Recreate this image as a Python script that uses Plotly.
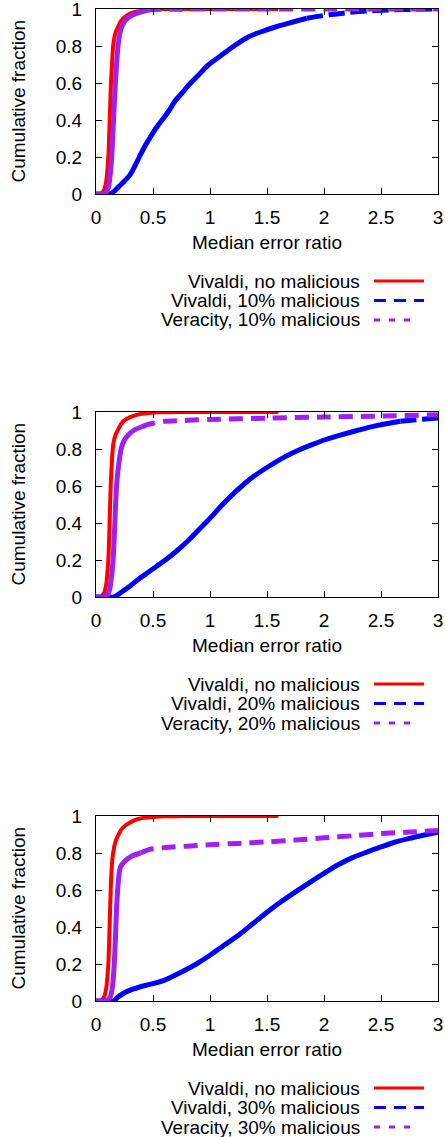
import plotly.graph_objects as go

# ---------------- data ----------------
# Panel 1: 10% malicious
red1_x = [0, 0.04, 0.07, 0.09, 0.10, 0.11, 0.12, 0.13, 0.14, 0.15, 0.17, 0.19, 0.22, 0.25, 0.30, 0.35, 0.42, 0.5, 0.6, 1.0, 1.6]
red1_y = [0, 0.0, 0.02, 0.07, 0.13, 0.22, 0.40, 0.58, 0.70, 0.80, 0.87, 0.90, 0.935, 0.955, 0.975, 0.985, 0.993, 0.998, 1.0, 1.0, 1.0]
blu1_x = [0, 0.12, 0.15, 0.20, 0.25, 0.30, 0.34, 0.38, 0.43, 0.47, 0.52, 0.58, 0.64, 0.69, 0.76, 0.83, 0.91, 0.99, 1.1, 1.21, 1.34, 1.45, 1.56, 1.7, 1.85, 2.0, 2.2, 2.4, 2.6, 2.8, 3.0]
blu1_y = [0, 0, 0.01, 0.04, 0.07, 0.105, 0.15, 0.20, 0.26, 0.30, 0.35, 0.40, 0.45, 0.50, 0.55, 0.60, 0.65, 0.70, 0.75, 0.80, 0.85, 0.877, 0.90, 0.925, 0.95, 0.965, 0.98, 0.99, 0.995, 0.998, 1.0]
pur1_x = [0, 0.06, 0.09, 0.11, 0.12, 0.13, 0.14, 0.15, 0.16, 0.17, 0.19, 0.21, 0.23, 0.26, 0.30, 0.35, 0.40, 0.45, 0.5, 0.7, 1.0, 1.5, 2.0, 2.5, 3.0]
pur1_y = [0, 0, 0.01, 0.04, 0.08, 0.14, 0.22, 0.35, 0.48, 0.60, 0.78, 0.87, 0.91, 0.94, 0.96, 0.975, 0.985, 0.993, 0.997, 0.999, 1, 1, 1, 1, 1]

# Panel 2: 20% malicious
red2_x = [0, 0.04, 0.07, 0.09, 0.10, 0.11, 0.12, 0.13, 0.14, 0.15, 0.17, 0.19, 0.22, 0.25, 0.30, 0.35, 0.40, 0.47, 0.55, 0.7, 1.0, 1.6]
red2_y = [0, 0, 0.02, 0.07, 0.13, 0.22, 0.42, 0.62, 0.74, 0.82, 0.875, 0.90, 0.935, 0.955, 0.972, 0.983, 0.99, 0.995, 0.998, 1, 1, 1]
blu2_x = [0, 0.10, 0.16, 0.22, 0.30, 0.37, 0.45, 0.53, 0.62, 0.71, 0.80, 0.88, 0.96, 1.03, 1.11, 1.20, 1.28, 1.39, 1.50, 1.64, 1.79, 1.90, 2.01, 2.15, 2.29, 2.45, 2.67, 2.85, 3.0]
blu2_y = [0, 0, 0.0, 0.025, 0.06, 0.095, 0.13, 0.165, 0.205, 0.25, 0.30, 0.35, 0.40, 0.445, 0.50, 0.555, 0.60, 0.655, 0.70, 0.752, 0.797, 0.825, 0.85, 0.876, 0.90, 0.925, 0.95, 0.96, 0.968]
pur2_x = [0, 0.07, 0.10, 0.12, 0.13, 0.14, 0.15, 0.16, 0.17, 0.18, 0.20, 0.22, 0.25, 0.29, 0.33, 0.40, 0.47, 0.6, 0.8, 1.0, 1.5, 2.0, 2.5, 3.0]
pur2_y = [0, 0, 0.01, 0.04, 0.08, 0.13, 0.20, 0.32, 0.47, 0.60, 0.72, 0.80, 0.85, 0.88, 0.90, 0.92, 0.935, 0.95, 0.955, 0.96, 0.967, 0.973, 0.978, 0.985]

# Panel 3: 30% malicious
red3_x = [0, 0.04, 0.07, 0.09, 0.10, 0.11, 0.12, 0.13, 0.14, 0.15, 0.17, 0.19, 0.22, 0.26, 0.30, 0.35, 0.42, 0.5, 0.6, 0.8, 1.0, 1.6]
red3_y = [0, 0, 0.02, 0.07, 0.13, 0.22, 0.42, 0.62, 0.74, 0.80, 0.86, 0.89, 0.925, 0.95, 0.965, 0.98, 0.99, 0.995, 0.998, 1, 1, 1]
blu3_x = [0, 0.10, 0.15, 0.20, 0.25, 0.33, 0.44, 0.5, 0.59, 0.75, 0.88, 1.0, 1.12, 1.25, 1.38, 1.5, 1.62, 1.75, 1.88, 2.0, 2.12, 2.25, 2.38, 2.5, 2.62, 2.75, 2.88, 3.0]
blu3_y = [0, 0, 0, 0.025, 0.045, 0.065, 0.085, 0.094, 0.11, 0.157, 0.20, 0.247, 0.30, 0.355, 0.42, 0.48, 0.535, 0.59, 0.643, 0.69, 0.735, 0.775, 0.806, 0.833, 0.858, 0.879, 0.897, 0.913]
pur3_x = [0, 0.08, 0.11, 0.13, 0.14, 0.15, 0.16, 0.17, 0.18, 0.19, 0.205, 0.22, 0.245, 0.28, 0.32, 0.39, 0.47, 0.62, 0.8, 1.0, 1.25, 1.5, 1.75, 2.0, 2.25, 2.5, 2.75, 3.0]
pur3_y = [0, 0, 0.01, 0.03, 0.06, 0.11, 0.20, 0.33, 0.50, 0.60, 0.70, 0.73, 0.75, 0.77, 0.785, 0.80, 0.82, 0.83, 0.837, 0.845, 0.852, 0.86, 0.87, 0.882, 0.893, 0.905, 0.913, 0.922]

series_names = ["Vivaldi, no malicious", "Vivaldi, {p}% malicious", "Veracity, {p}% malicious"]
percents = [10, 20, 30]
x_ticks = [0, 0.5, 1, 1.5, 2, 2.5, 3]
x_tick_text = ["0", "0.5", "1", "1.5", "2", "2.5", "3"]
y_ticks = [0, 0.2, 0.4, 0.6, 0.8, 1]
y_tick_text = ["0", "0.2", "0.4", "0.6", "0.8", "1"]

panels = [
    [(red1_x, red1_y), (blu1_x, blu1_y), (pur1_x, pur1_y)],
    [(red2_x, red2_y), (blu2_x, blu2_y), (pur2_x, pur2_y)],
    [(red3_x, red3_y), (blu3_x, blu3_y), (pur3_x, pur3_y)],
]
# where the dense (visually solid) part of each curve ends
solid_until = [
    [99, 1.9, 0.45],
    [99, 2.8, 0.45],
    [99, 99, 0.45],
]

# ---------------- style ----------------
W, H = 445, 1137
FONT = "Liberation Sans, Arial, Helvetica, sans-serif"
FS = 19
colors = ["#ff0000", "#0000ff", "#a020f0"]
widths = [4, 5, 5]
dashes = ["solid", "16px,6px", "14px,8px"]
smooth = [0.5, 0.9, 0.5]
leg_dashes = ["solid", "12px,8px", "6px,9px"]
leg_end = [424, 424, 410]

# pixel layout
px_left, px_right = 96, 438
panel_tops = [9, 412, 816]
panel_h = 185
leg_gap = 19.5

def py(v):
    return 1 - v / H

fig = go.Figure()
annotations = []
shapes = []

for i, panel in enumerate(panels):
    xa = "x" if i == 0 else f"x{i+1}"
    ya = "y" if i == 0 else f"y{i+1}"
    for j, (xs, ys) in enumerate(panel):
        thr = solid_until[i][j]
        sx = [x for x in xs if x <= thr]
        sy = ys[:len(sx)]
        fig.add_trace(go.Scatter(x=sx, y=sy, mode="lines", xaxis=xa, yaxis=ya,
                                 line=dict(color=colors[j], width=widths[j], dash="solid",
                                           shape="spline", smoothing=smooth[j]),
                                 showlegend=False, hoverinfo="skip"))
        if len(sx) < len(xs):
            k = len(sx) - 1
            fig.add_trace(go.Scatter(x=xs[k:], y=ys[k:], mode="lines", xaxis=xa, yaxis=ya,
                                     line=dict(color=colors[j], width=widths[j], dash=dashes[j],
                                               shape="spline", smoothing=smooth[j]),
                                     showlegend=False, hoverinfo="skip"))

    top = panel_tops[i]
    bot = top + panel_h
    axis_common = dict(showline=True, linecolor="black", linewidth=1, mirror="ticks",
                       ticks="inside", ticklen=6, tickwidth=1, tickcolor="black",
                       showgrid=False, zeroline=False, automargin=False,
                       ticklabeloverflow="allow",
                       tickfont=dict(family=FONT, size=FS, color="black"))
    fig.layout[f"xaxis{'' if i == 0 else i+1}"] = dict(
        axis_common, domain=[px_left / W, px_right / W], range=[0, 3],
        tickvals=x_ticks, ticktext=x_tick_text, anchor=ya, ticklabelstandoff=6)
    fig.layout[f"yaxis{'' if i == 0 else i+1}"] = dict(
        axis_common, domain=[py(bot), py(top)], range=[0, 1],
        tickvals=y_ticks, ticktext=y_tick_text, anchor=xa, ticklabelstandoff=9)

    # axis titles
    annotations.append(dict(text="Median error ratio", x=(px_left + px_right) / 2 / W, y=py(bot + 48),
                            xref="paper", yref="paper", xanchor="center", yanchor="middle",
                            showarrow=False, font=dict(family=FONT, size=FS, color="black")))
    annotations.append(dict(text="Cumulative fraction", x=18 / W, y=py((top + bot) / 2),
                            xref="paper", yref="paper", xanchor="center", yanchor="middle",
                            textangle=-90, showarrow=False,
                            font=dict(family=FONT, size=FS, color="black")))
    # legend (text right-aligned, sample line on the right)
    for j in range(3):
        ry = bot + 87 + j * leg_gap
        annotations.append(dict(text=series_names[j].format(p=percents[i]), x=362 / W, y=py(ry),
                                xref="paper", yref="paper", xanchor="right", yanchor="middle",
                                showarrow=False, font=dict(family=FONT, size=FS, color="black")))
        shapes.append(dict(type="line", xref="paper", yref="paper",
                           x0=374 / W, x1=leg_end[j] / W, y0=py(ry), y1=py(ry),
                           line=dict(color=colors[j], width=3, dash=leg_dashes[j])))

fig.update_layout(template="none", width=W, height=H, margin=dict(l=0, r=0, t=0, b=0, autoexpand=False),
                  paper_bgcolor="white", plot_bgcolor="white",
                  annotations=annotations, shapes=shapes, showlegend=False)

fig.write_html("out.html", config={"displayModeBar": False},
               post_script="document.body.style.margin='0px';")
